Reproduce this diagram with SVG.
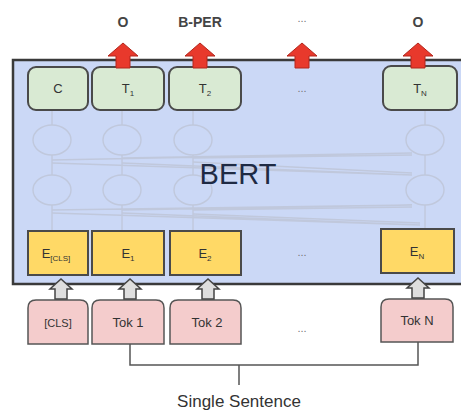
<svg xmlns="http://www.w3.org/2000/svg" width="461" height="411" viewBox="0 0 461 411">
  <style>
    .lbl { font-family: "Liberation Sans", Arial, sans-serif; fill: #333; text-anchor: middle; }
    .top { font-size: 14px; font-weight: bold; fill: #444; }
    .box { font-size: 13px; }
    .sub { font-size: 8px; }
    .dots { font-family: "Liberation Sans", Arial, sans-serif; font-size: 11px; fill: #777; text-anchor: middle; }
    .tbox { fill: #d9ead3; stroke: #4a4a4a; stroke-width: 2; }
    .ebox { fill: #ffd966; stroke: #4a4a4a; stroke-width: 2; }
    .tok { fill: #f4cccc; stroke: #555; stroke-width: 1.5; }
    .redarrow { fill: #e8392c; stroke: #b3261c; stroke-width: 1; }
    .grayarrow { fill: #dedede; stroke: #444; stroke-width: 1.5; }
    .net { fill: none; stroke: #c0c8dc; stroke-width: 1.4; }
    .bracket { fill: none; stroke: #555; stroke-width: 1.5; }
  </style>
  <defs>
    <path id="up-red" d="M -7 0 L -7 -12 L -15 -12 L 0 -25 L 15 -12 L 7 -12 L 7 0 Z"/>
    <path id="up-gray" d="M -6 0 L -6 -10 L -11 -10 L 0 -20 L 11 -10 L 6 -10 L 6 0 Z"/>
  </defs>

  <rect width="461" height="411" fill="#ffffff"/>

  <!-- BERT encoder body -->
  <g id="bert">
    <rect x="13" y="60" width="460" height="224" fill="#cbd8f6" stroke="#3a3a3a" stroke-width="2.5"/>
    <!-- faint hidden-layer network -->
    <g class="net">
      <ellipse cx="52" cy="140" rx="19" ry="15"/>
      <ellipse cx="122" cy="140" rx="19" ry="15"/>
      <ellipse cx="193" cy="140" rx="19" ry="15"/>
      <ellipse cx="425" cy="140" rx="19" ry="15"/>
      <ellipse cx="52" cy="190" rx="19" ry="15"/>
      <ellipse cx="122" cy="190" rx="19" ry="15"/>
      <ellipse cx="193" cy="190" rx="19" ry="15"/>
      <ellipse cx="425" cy="190" rx="19" ry="15"/>
      <path d="M52 110 V125 M122 110 V125 M193 110 V125 M425 110 V125"/>
      <path d="M52 155 V175 M122 155 V175 M193 155 V175 M425 155 V175"/>
      <path d="M52 205 V230 M122 205 V230 M193 205 V230 M425 205 V230"/>
      <path d="M52 160 L412 153 M52 163 L412 175 M122 158 L412 153 M122 163 L412 175 M193 158 L412 155 M193 162 L412 173"/>
      <path d="M52 210 L412 205 M52 213 L420 225 M122 210 L412 205 M122 213 L420 225 M193 210 L412 207 M193 214 L420 223"/>
    </g>
    <text x="238" y="184" font-family="Liberation Sans, Arial, sans-serif" font-size="29" fill="#1e2a44" text-anchor="middle">BERT</text>
  </g>

  <!-- output token boxes -->
  <g id="out-c">
    <rect class="tbox" x="28" y="67" width="60" height="43" rx="8"/>
    <text class="lbl box" x="58" y="93">C</text>
  </g>
  <g id="out-t1">
    <rect class="tbox" x="92" y="67" width="72" height="43" rx="8"/>
    <text class="lbl box" x="128" y="93">T<tspan class="sub" dy="3">1</tspan></text>
  </g>
  <g id="out-t2">
    <rect class="tbox" x="169" y="67" width="72" height="43" rx="8"/>
    <text class="lbl box" x="205" y="93">T<tspan class="sub" dy="3">2</tspan></text>
  </g>
  <text class="dots" x="302" y="92">...</text>
  <g id="out-tn">
    <rect class="tbox" x="383" y="66" width="74" height="44" rx="8"/>
    <text class="lbl box" x="420" y="93">T<tspan class="sub" dy="3">N</tspan></text>
  </g>

  <!-- embedding boxes -->
  <g id="emb-cls">
    <rect class="ebox" x="28" y="231" width="60" height="44"/>
    <text class="lbl box" x="56" y="258">E<tspan class="sub" dy="3">[CLS]</tspan></text>
  </g>
  <g id="emb-1">
    <rect class="ebox" x="92" y="231" width="72" height="44"/>
    <text class="lbl box" x="128" y="258">E<tspan class="sub" dy="3">1</tspan></text>
  </g>
  <g id="emb-2">
    <rect class="ebox" x="170" y="231" width="71" height="44"/>
    <text class="lbl box" x="205" y="258">E<tspan class="sub" dy="3">2</tspan></text>
  </g>
  <text class="dots" x="302" y="256">...</text>
  <g id="emb-n">
    <rect class="ebox" x="381" y="229" width="73" height="44"/>
    <text class="lbl box" x="417" y="256">E<tspan class="sub" dy="3">N</tspan></text>
  </g>

  <!-- input tokens -->
  <g id="tok-cls">
    <path class="tok" d="M28 344 V308 Q28 300 36 300 H80 Q88 300 88 308 V344 Z"/>
    <text class="lbl" x="58" y="327" font-size="11">[CLS]</text>
  </g>
  <g id="tok-1">
    <path class="tok" d="M92 344 V308 Q92 300 100 300 H156 Q164 300 164 308 V344 Z"/>
    <text class="lbl box" x="128" y="327">Tok 1</text>
  </g>
  <g id="tok-2">
    <path class="tok" d="M170 344 V308 Q170 300 178 300 H233 Q241 300 241 308 V344 Z"/>
    <text class="lbl box" x="207" y="327">Tok 2</text>
  </g>
  <text class="dots" x="302" y="332">...</text>
  <g id="tok-n">
    <path class="tok" d="M381 342 V307 Q381 299 389 299 H445 Q453 299 453 307 V342 Z"/>
    <text class="lbl box" x="417" y="325">Tok N</text>
  </g>

  <!-- connectors -->
  <g id="connectors">
    <use href="#up-red" class="redarrow" x="123" y="68"/>
    <use href="#up-red" class="redarrow" x="200" y="68"/>
    <use href="#up-red" class="redarrow" x="302" y="68"/>
    <use href="#up-red" class="redarrow" x="418" y="68"/>
    <use href="#up-gray" class="grayarrow" x="61" y="299"/>
    <use href="#up-gray" class="grayarrow" x="130" y="299"/>
    <use href="#up-gray" class="grayarrow" x="208" y="299"/>
    <use href="#up-gray" class="grayarrow" x="418" y="298"/>
    <path class="bracket" d="M130 344 V365 H418 V342 M239 365 V385"/>
  </g>

  <!-- output labels -->
  <text class="lbl top" x="123" y="27">O</text>
  <text class="lbl top" x="200" y="27">B-PER</text>
  <text class="dots" x="302" y="22">...</text>
  <text class="lbl top" x="418" y="27">O</text>

  <text class="lbl" x="239" y="407" font-size="17">Single Sentence</text>
</svg>
